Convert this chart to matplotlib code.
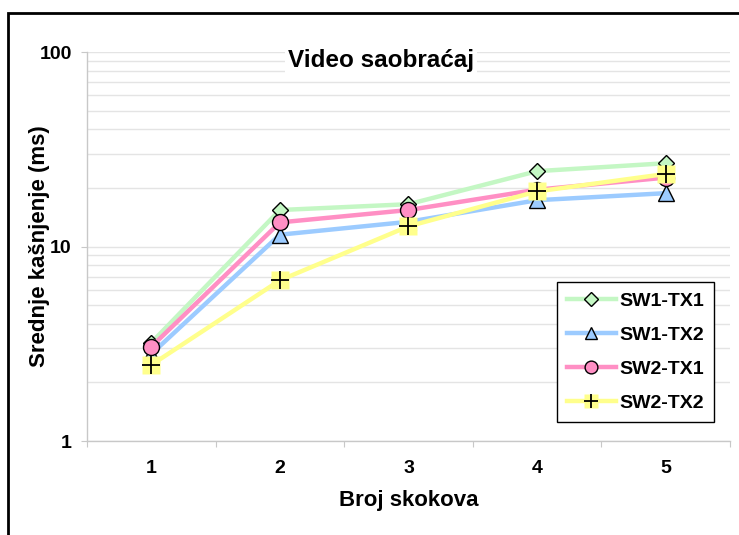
import matplotlib
matplotlib.use("Agg")
from matplotlib import pyplot as plt
from matplotlib.legend_handler import HandlerTuple
from matplotlib.patches import Rectangle
from matplotlib.ticker import LogLocator, FixedLocator, NullFormatter
import numpy as np

plt.rcParams['font.family'] = ['Liberation Sans', 'DejaVu Sans']

# data
hops = [1, 2, 3, 4, 5]
sw1_tx1 = [3.2, 15.4, 16.5, 24.4, 26.8]
sw1_tx2 = [2.8, 11.5, 13.4, 17.3, 18.8]
sw2_tx1 = [3.05, 13.3, 15.4, 19.6, 22.6]
sw2_tx2 = [2.46, 6.7, 12.7, 19.2, 23.6]

title = "Video saobraćaj"
x_label = "Broj skokova"
y_label = "Srednje kašnjenje (ms)"
series_names = ["SW1-TX1", "SW1-TX2", "SW2-TX1", "SW2-TX2"]

fig = plt.figure(figsize=(7.39, 5.35), dpi=100)
ax = fig.add_axes([0.1177, 0.1757, 0.8701, 0.7271])

lw = 3.2
l1, = ax.plot(hops, sw1_tx1, color="#c4f7c4", lw=lw, marker="D", ms=8.5,
              mfc="#c4f7c4", mec="black", mew=1.0, zorder=3)
l2, = ax.plot(hops, sw1_tx2, color="#9ccbff", lw=lw, marker="^", ms=11,
              mfc="#9ccbff", mec="black", mew=1.0, zorder=3)
l3, = ax.plot(hops, sw2_tx1, color="#ff8fc4", lw=lw, marker="o", ms=11.5,
              mfc="#ff8fc4", mec="black", mew=1.0, zorder=4)
l4, = ax.plot(hops, sw2_tx2, color="#ffff8c", lw=lw, marker="s", ms=12.5,
              mfc="#ffff8c", mec="none", zorder=5)
l4p, = ax.plot(hops, sw2_tx2, ls="none", marker="+", ms=13, mec="black",
               mew=1.3, zorder=6)

ax.set_yscale('log')
ax.set_ylim(1, 100)
ax.set_xlim(0.5, 5.5)

# y axis ticks and grid
ax.yaxis.set_major_locator(FixedLocator([1, 10, 100]))
ax.yaxis.set_major_formatter(plt.FuncFormatter(lambda v, p: "%g" % v))
ax.yaxis.set_minor_locator(LogLocator(base=10, subs=np.arange(2, 10)))
ax.yaxis.set_minor_formatter(NullFormatter())
ax.grid(True, which='both', axis='y', color="#e4e4e4", lw=1.0, zorder=0)
ax.tick_params(axis='y', which='minor', length=0)
ax.tick_params(axis='y', which='major', length=4, color="#c8c8c8", pad=7,
               labelsize=14)

# x axis: ticks between categories, labels at categories
ax.xaxis.set_major_locator(FixedLocator(np.arange(0.5, 6, 1)))
ax.xaxis.set_major_formatter(NullFormatter())
ax.xaxis.set_minor_locator(FixedLocator(hops))
ax.xaxis.set_minor_formatter(plt.FuncFormatter(lambda v, p: "%d" % v))
ax.tick_params(axis='x', which='major', length=4, color="#c8c8c8")
ax.tick_params(axis='x', which='minor', length=0, pad=14, labelsize=14)

for lab in ax.get_xticklabels(minor=True) + ax.get_yticklabels():
    lab.set_fontweight('bold')

for side in ['top', 'right']:
    ax.spines[side].set_visible(False)
for side in ['left', 'bottom']:
    ax.spines[side].set_color("#c8c8c8")
    ax.spines[side].set_linewidth(1.0)

ax.text(0.457, 0.979, title, transform=ax.transAxes, ha='center', va='center',
        fontsize=17.5, fontweight='bold', zorder=7,
        bbox=dict(facecolor='white', edgecolor='none', pad=2))
ax.set_xlabel(x_label, fontsize=16, fontweight='bold', labelpad=9)
ax.set_ylabel(y_label, fontsize=16, fontweight='bold')
ax.yaxis.set_label_coords(-0.058, 0.5)

leg = ax.legend([l1, l2, l3, (l4, l4p)], series_names,
                handler_map={tuple: HandlerTuple(ndivide=1)},
                loc='lower right', bbox_to_anchor=(0.975, 0.049),
                prop={'weight': 'bold', 'size': 14}, frameon=True,
                fancybox=False, edgecolor="black", framealpha=1,
                handlelength=2.5, labelspacing=0.85, borderpad=0.5,
                handletextpad=0.2, borderaxespad=0, markerscale=0.8)
leg.get_frame().set_linewidth(1.0)

# outer frame of the original figure (cut off on the right and bottom)
fig.patches.append(Rectangle((8 / 739, -0.2), 1.2, 0.2 + 1 - 13 / 535,
                             transform=fig.transFigure, fill=False,
                             edgecolor="black", lw=2.0, clip_on=False))

plt.savefig("out.png", dpi=100)
